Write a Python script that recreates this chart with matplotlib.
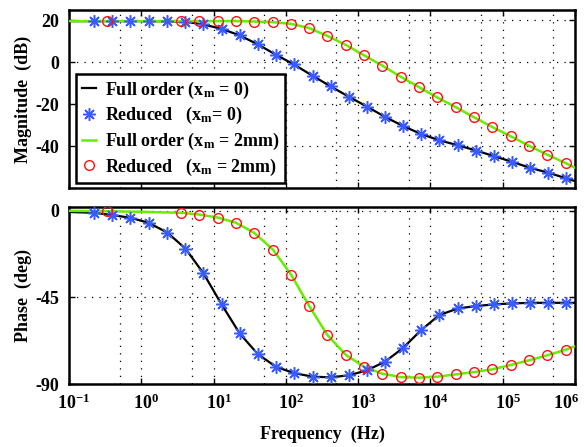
import numpy as np
import matplotlib
matplotlib.use('Agg')
import matplotlib.pyplot as plt
import matplotlib.transforms as mtransforms
from matplotlib.ticker import FixedLocator, NullFormatter

plt.rcParams['font.family'] = 'Liberation Serif'
plt.rcParams['font.weight'] = 'bold'
plt.rcParams['axes.labelweight'] = 'bold'
plt.rcParams['axes.unicode_minus'] = False
plt.rcParams['mathtext.fontset'] = 'custom'
plt.rcParams['mathtext.rm'] = 'Liberation Serif:bold'
plt.rcParams['mathtext.it'] = 'Liberation Serif:bold'
plt.rcParams['mathtext.bf'] = 'Liberation Serif:bold'
plt.rcParams['mathtext.default'] = 'rm'

# full order lines (log10 of frequency in Hz)
logf_full0 = [-1.0, -0.65, -0.40, -0.15, 0.10, 0.36, 0.61, 0.86, 1.11, 1.36, 1.61, 1.86, 2.11,
              2.37, 2.62, 2.87, 3.12, 3.37, 3.62, 3.87, 4.12, 4.38, 4.63, 4.88, 5.13, 5.38,
              5.63, 5.88, 6.0]
mag_full0 = [19.7, 19.7, 19.7, 19.7, 19.7, 19.6, 19.4, 18.1, 16.0, 12.9, 8.6, 3.7, -1.0,
             -6.4, -11.5, -16.4, -21.1, -26.0, -30.4, -34.2, -37.2, -39.6, -42.1, -44.8,
             -47.5, -50.4, -52.7, -55.4, -56.7]
ph_full0 = [-0.6, -1.0, -2.2, -3.6, -6.2, -11.3, -19.6, -32.5, -48.6, -63.7, -74.4, -81.0,
            -84.3, -86.2, -86.5, -85.5, -82.9, -78.4, -71.3, -62.0, -54.2, -50.7, -49.5,
            -48.6, -48.1, -47.8, -47.8, -47.8, -47.8]

logf_full2 = [-1.0, -0.47, 0.0, 0.55, 0.80, 1.06, 1.31, 1.56, 1.82, 2.07, 2.32, 2.57, 2.83,
              3.08, 3.33, 3.59, 3.84, 4.09, 4.35, 4.60, 4.85, 5.11, 5.36, 5.61, 5.87, 6.0]
mag_full2 = [19.7, 19.7, 19.7, 19.7, 19.7, 19.7, 19.7, 19.5, 19.2, 18.4, 16.4, 12.7, 8.3,
             3.4, -1.5, -6.9, -11.8, -16.7, -21.4, -26.2, -30.8, -35.3, -39.8, -44.0,
             -48.1, -50.4]
ph_full2 = [0.0, -0.2, -0.5, -1.0, -1.9, -3.5, -6.2, -11.4, -20.1, -33.1, -49.3, -64.4,
            -74.9, -81.0, -84.6, -86.4, -86.7, -86.2, -85.0, -83.8, -82.4, -80.1, -77.7,
            -75.1, -72.2, -70.3]

# reduced model markers
logf_red0 = [-0.65, -0.40, -0.15, 0.10, 0.36, 0.61, 0.86, 1.11, 1.36, 1.61, 1.86, 2.11,
             2.37, 2.62, 2.87, 3.12, 3.37, 3.62, 3.87, 4.12, 4.38, 4.63, 4.88, 5.13, 5.38,
             5.63, 5.88]
mag_red0 = [19.7, 19.7, 19.7, 19.7, 19.6, 19.4, 18.1, 16.0, 12.9, 8.6, 3.7, -1.0, -6.4,
            -11.5, -16.4, -21.1, -26.0, -30.4, -34.2, -37.2, -39.6, -42.1, -44.8, -47.5,
            -50.4, -52.7, -55.4]
ph_red0 = [-1.0, -2.2, -3.6, -6.2, -11.3, -19.6, -32.5, -48.6, -63.7, -74.4, -81.0, -84.3,
           -86.2, -86.5, -85.5, -82.9, -78.4, -71.3, -62.0, -54.2, -50.7, -49.5, -48.6,
           -48.1, -47.8, -47.8, -47.8]

logf_red2 = [-0.47, 0.55, 0.80, 1.06, 1.31, 1.56, 1.82, 2.07, 2.32, 2.57, 2.83, 3.08, 3.33,
             3.59, 3.84, 4.09, 4.35, 4.60, 4.85, 5.11, 5.36, 5.61, 5.87]
mag_red2 = [19.7, 19.7, 19.7, 19.7, 19.7, 19.5, 19.2, 18.4, 16.4, 12.7, 8.3, 3.4, -1.5,
            -6.9, -11.8, -16.7, -21.4, -26.2, -30.8, -35.3, -39.8, -44.0, -48.1]
ph_red2 = [0.0, -1.0, -1.9, -3.5, -6.2, -11.4, -20.1, -33.1, -49.3, -64.4, -74.9, -81.0,
           -84.6, -86.4, -86.7, -86.2, -85.0, -83.8, -82.4, -80.1, -77.7, -75.1, -72.2]

labels = ['Full order (x$_\\mathrm{m}$ = 0)', 'Reduced   (x$_\\mathrm{m}$= 0)',
          'Full order (x$_\\mathrm{m}$ = 2mm)', 'Reduced   (x$_\\mathrm{m}$ = 2mm)']
xtick_exp = [-1, 0, 1, 2, 3, 4, 5, 6]

f0 = 10 ** np.array(logf_full0)
f2 = 10 ** np.array(logf_full2)
r0 = 10 ** np.array(logf_red0)
r2 = 10 ** np.array(logf_red2)

fig = plt.figure(figsize=(5.85, 4.47), dpi=100)
ax1 = fig.add_axes([0.118, 0.5794, 0.865, 0.3982])
ax2 = fig.add_axes([0.118, 0.1409, 0.865, 0.396])

star = (8, 2, 0)
for ax, y0, y2, yr0, yr2 in [(ax1, mag_full0, mag_full2, mag_red0, mag_red2),
                             (ax2, ph_full0, ph_full2, ph_red0, ph_red2)]:
    ax.plot(f0, y0, color='black', lw=1.6, label=labels[0], zorder=3)
    ax.plot(r0, yr0, ls='none', marker=star, ms=9, mew=1.1, color='#3a5cff',
            label=labels[1], zorder=4)
    ax.plot(f2, y2, color='#66ee00', lw=1.8, label=labels[2], zorder=3)
    ax.plot(r2, yr2, ls='none', marker='o', ms=7, mew=1.0, mfc='none', mec='#ff1010',
            label=labels[3], zorder=4)
    ax.set_xscale('log')
    ax.set_xlim(1e-1, 1e6)
    ax.set_xticks([10.0 ** e for e in xtick_exp])
    ax.xaxis.set_minor_locator(FixedLocator([5 * 10.0 ** k for k in range(-1, 6)]))
    ax.xaxis.set_minor_formatter(NullFormatter())
    ax.tick_params(which='major', direction='in', top=True, right=True, length=4,
                   width=1, labelsize=13, pad=7)
    ax.tick_params(which='minor', length=0)
    ax.grid(True, which='both', color='black', lw=0.9, ls=(0, (1, 5)))
    for s in ax.spines.values():
        s.set_linewidth(1.8)

ax1.set_ylim(-60, 25)
ax1.set_yticks([-40, -20, 0, 20])
ax1.set_xticklabels([])
ax1.set_ylabel('Magnitude  (dB)', fontsize=13)
ax1.yaxis.set_label_coords(-0.074, 0.5)

ax2.set_ylim(-90, 2)
ax2.set_yticks([-90, -45, 0])
ax2.set_xticklabels(['$10^{%d}$' % e for e in xtick_exp])
# keep the "10" centred on the tick, pull the last one inside the figure
for i, lab in enumerate(ax2.get_xticklabels()):
    dx = 5 if i < len(xtick_exp) - 1 else -9
    lab.set_transform(lab.get_transform() +
                      mtransforms.ScaledTranslation(dx / 100, 0, fig.dpi_scale_trans))
ax2.set_ylabel('Phase  (deg)', fontsize=13)
ax2.yaxis.set_label_coords(-0.074, 0.5)
ax2.set_xlabel('Frequency  (Hz)', fontsize=13)
ax2.xaxis.set_label_coords(0.5, -0.235)

leg = ax1.legend(loc='lower left', bbox_to_anchor=(0.014, 0.028), borderaxespad=0,
                 fontsize=13, fancybox=False, framealpha=1, handlelength=0.8,
                 handletextpad=0.5, labelspacing=0.25, borderpad=0.3)
leg.get_frame().set_edgecolor('black')
leg.get_frame().set_linewidth(1.8)

fig.savefig('out.png', dpi=100)
